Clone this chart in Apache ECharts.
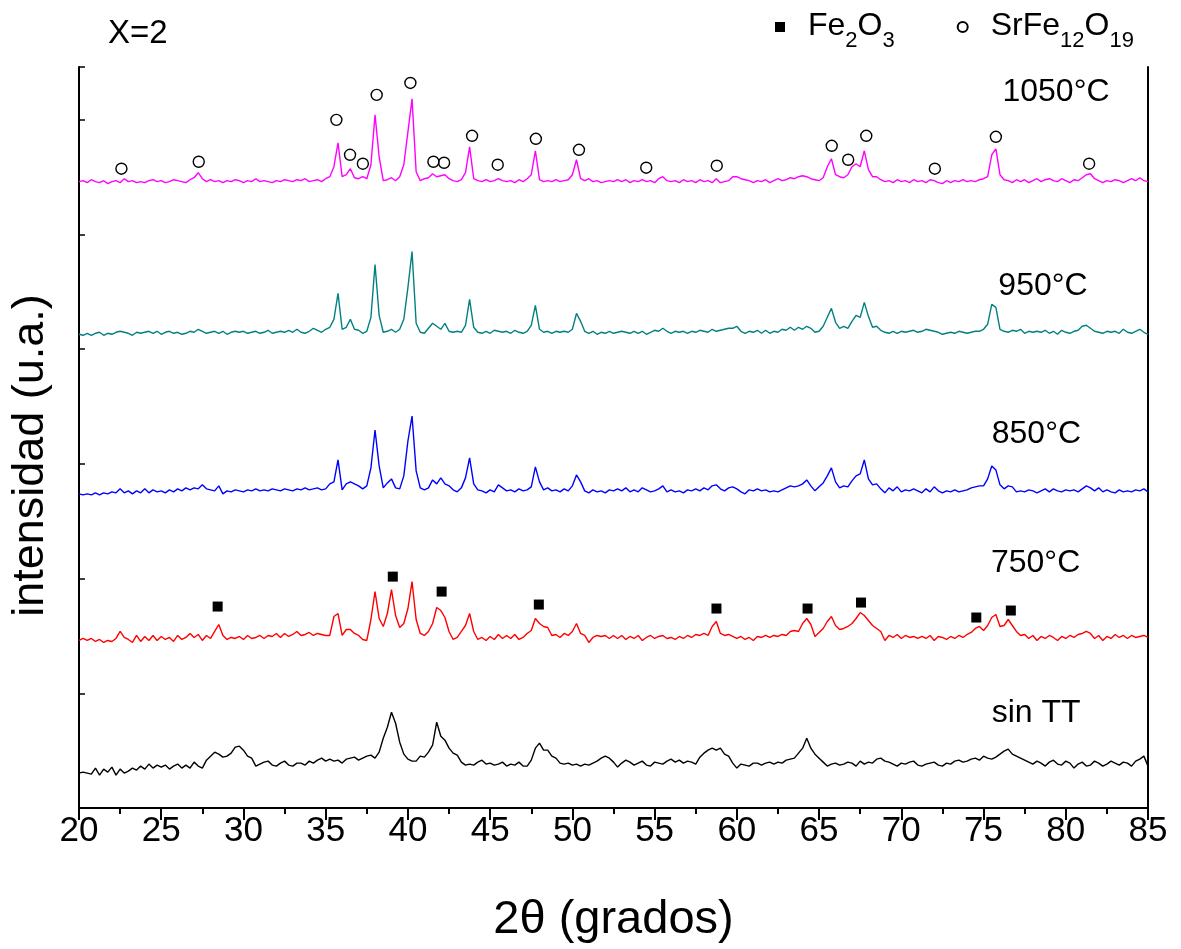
<!DOCTYPE html>
<html>
<head>
<meta charset="utf-8">
<script src="https://cdn.jsdelivr.net/npm/echarts@6/dist/echarts.min.js"></script>
<style>
html,body{margin:0;padding:0;background:#fff;}
#chart{width:1181px;height:949px;}
</style>
</head>
<body>
<div id="chart"></div>
<script>
// 2θ sampling grid (degrees), step 0.25 from 20 to 85
const twoTheta = Array.from({length: 261}, (_, i) => 20 + i * 0.25);

const seriesNames = ['sin TT', '750°C', '850°C', '950°C', '1050°C'];
const seriesColors = ['#000000', '#FF0000', '#0000FF', '#008080', '#FF00FF'];
// vertical shift of each pattern (a.u.)
const stackOffsets = [30, 165, 313, 472, 623];

const intSinTT = [
  5,6,5,4,10,3,9,6,11,3,9,5,7,10,8,12,9,14,10,13,
  11,13,9,12,14,10,13,10,16,12,10,18,22,26,24,21,22,25,31,32,
  28,22,20,12,14,16,17,13,12,15,17,13,12,15,15,13,17,15,18,20,
  17,19,17,18,15,19,20,21,18,20,22,23,20,26,40,51,66,55,36,24,
  19,17,17,22,21,26,33,56,42,38,30,25,23,16,13,14,13,16,18,14,
  15,13,14,16,12,14,13,16,12,12,18,30,35,28,28,22,20,15,14,15,
  13,14,12,14,13,15,17,20,22,20,16,11,15,18,16,13,15,17,13,12,
  16,15,14,17,19,16,18,15,17,16,14,21,25,28,30,28,30,24,22,15,
  10,14,13,12,15,15,13,15,16,14,16,15,18,19,20,25,30,40,30,24,
  20,16,12,14,15,13,14,16,15,12,17,14,16,15,19,20,17,16,14,12,
  15,14,16,17,13,12,14,15,16,13,12,15,14,17,18,16,17,19,20,18,
  22,20,19,21,24,27,29,24,22,20,18,16,14,17,15,12,16,18,14,13,
  17,15,10,14,16,12,13,17,15,12,14,17,15,13,16,15,12,17,19,22,
  12
];
const int750 = [
  3,5,3,5,2,4,1,3,2,5,12,6,4,1,8,2,7,3,8,3,
  7,4,6,2,8,4,6,10,6,9,3,8,5,12,19,8,4,6,5,7,
  4,8,5,6,8,5,8,7,10,6,10,7,9,12,8,9,11,8,10,9,
  8,8,27,30,8,14,14,10,8,4,3,24,52,25,17,30,54,28,16,20,
  35,62,24,10,8,12,20,36,33,26,12,4,6,12,18,30,12,4,6,3,
  7,4,9,5,8,5,9,4,6,10,13,25,20,17,16,8,9,6,10,8,
  12,20,10,8,1,6,8,7,8,5,8,5,8,4,7,5,8,3,6,8,
  5,7,8,5,6,4,7,5,8,6,9,8,10,8,17,22,10,8,9,7,
  5,7,4,6,3,7,6,8,6,8,7,9,8,12,13,12,20,25,19,7,
  11,15,22,27,18,14,15,17,20,25,31,28,23,18,15,12,3,8,6,9,
  5,8,6,7,5,7,5,8,3,7,6,4,7,5,8,6,9,11,15,17,
  13,18,26,29,17,18,24,18,12,8,9,5,8,3,7,5,8,6,3,7,
  5,8,6,9,10,12,10,5,8,3,7,5,9,6,8,5,8,6,7,8,
  6
];
const int850 = [
  2,1,2,1,3,1,3,2,4,3,7,3,5,2,5,3,7,3,6,4,
  5,3,6,4,7,5,8,6,8,7,11,7,6,5,10,2,5,4,6,5,
  4,6,5,7,5,6,5,7,6,5,7,6,5,7,6,8,6,7,8,6,
  7,12,14,36,6,12,14,12,10,7,10,28,66,30,8,13,17,8,7,20,
  55,80,25,8,6,8,16,12,18,12,10,6,4,8,18,38,12,6,5,3,
  6,4,11,8,5,6,4,7,5,6,9,29,14,6,8,5,6,4,7,5,
  10,21,14,5,3,6,4,5,3,6,5,7,5,8,4,6,4,8,6,4,
  5,7,10,4,6,4,5,3,6,5,7,5,8,6,10,11,7,5,8,9,
  7,4,2,6,5,7,5,6,4,5,4,6,8,10,9,10,12,16,10,5,
  9,13,20,28,14,8,10,9,15,20,22,36,17,11,12,7,3,8,5,9,
  4,6,5,7,5,3,7,4,9,5,3,5,4,6,4,5,6,8,9,10,
  10,17,30,26,11,7,10,9,4,5,4,6,5,3,5,7,4,7,5,4,
  6,5,6,4,7,10,8,5,8,4,6,4,3,6,4,5,4,6,5,7,
  4
];
const int950 = [
  3,2,4,2,4,5,2,4,3,5,6,5,4,2,5,4,5,6,4,6,
  3,5,6,4,5,3,4,6,5,8,6,4,5,6,4,6,3,5,6,5,
  6,4,5,6,4,5,7,4,5,6,5,7,5,8,5,4,6,9,7,5,
  8,10,18,44,8,10,18,8,7,4,6,20,73,22,5,6,8,5,8,18,
  50,86,14,5,4,9,14,11,8,14,6,5,6,5,12,38,10,5,4,6,
  4,7,6,5,6,4,7,5,4,6,12,32,8,5,6,4,6,5,6,5,
  8,24,16,6,4,6,3,5,4,6,4,5,6,5,4,6,4,6,3,5,
  7,6,9,6,4,6,5,6,4,6,5,7,6,5,8,6,7,8,9,9,
  11,6,4,6,5,7,4,7,4,6,5,8,7,10,7,10,8,11,9,5,
  6,11,20,29,15,9,11,9,16,22,20,35,21,10,11,7,5,4,6,4,
  6,5,6,7,5,6,8,7,6,5,3,4,5,4,6,5,4,5,6,6,
  8,13,33,30,8,6,5,7,6,8,4,6,5,6,5,7,4,6,3,7,
  5,4,6,7,11,12,9,6,5,4,6,5,6,4,8,5,4,6,8,5,
  3
];
const int1050 = [
  5,6,4,7,5,4,6,3,5,6,4,8,5,6,4,5,4,6,7,5,
  6,4,5,7,6,5,4,7,9,14,8,5,7,5,6,4,6,5,7,6,
  4,6,5,8,5,6,5,4,6,5,7,6,5,7,6,8,5,6,7,5,
  8,10,20,44,10,12,18,9,8,10,8,22,72,30,6,7,9,6,10,22,
  55,88,15,6,8,9,13,10,11,12,8,6,5,7,14,40,8,6,5,7,
  5,6,8,6,5,6,4,7,5,8,12,36,7,5,6,5,7,5,6,7,
  12,27,8,6,8,5,6,4,5,6,5,7,5,7,4,6,5,7,5,6,
  4,8,10,6,5,6,4,7,5,6,4,7,5,6,4,8,4,5,6,10,
  10,8,7,6,4,6,5,7,4,6,8,6,7,9,8,10,11,10,8,7,
  6,9,20,28,12,10,9,12,20,23,20,36,17,10,10,7,5,6,4,7,
  5,6,4,7,5,6,4,7,6,4,3,6,4,6,5,7,5,6,5,7,
  8,10,32,38,12,7,6,4,7,5,7,4,6,8,5,7,8,6,5,8,
  6,4,7,6,9,12,13,8,6,4,6,5,7,6,4,6,8,6,9,6,
  5
];
const intensities = [intSinTT, int750, int850, int950, int1050];

// Phase markers: SrFe12O19 (open circles, on 1050°C pattern), Fe2O3 (filled squares, on 750°C pattern)
const srFeAngles  = [22.58, 27.28, 35.65, 36.48, 37.26, 38.1, 40.15, 41.55, 42.2, 43.9, 45.46, 47.78, 50.4, 54.49, 58.78, 65.77, 66.77, 67.87, 72.04, 75.75, 81.42];
const srFeHeights = [18, 25, 67, 32, 23, 92, 104, 25, 24, 51, 22, 48, 37, 19, 21, 41, 27, 51, 18, 50, 23];
const fe2o3Angles  = [28.43, 39.08, 42.05, 47.96, 58.76, 64.3, 67.55, 74.56, 76.66];
const fe2o3Heights = [37, 67, 52, 39, 35, 35, 41, 26, 33];

const xTicks = [20, 25, 30, 35, 40, 45, 50, 55, 60, 65, 70, 75, 80, 85];

const FONT = '"Liberation Sans", Arial, sans-serif';

const lineSeries = seriesNames.map((name, k) => ({
  name: name,
  type: 'line',
  data: twoTheta.map((t, i) => [t, stackOffsets[k] + intensities[k][i]]),
  showSymbol: false,
  symbol: 'none',
  lineStyle: {color: seriesColors[k], width: 1.4},
  itemStyle: {color: seriesColors[k]},
  z: 2
}));

// label anchors for the pattern names (left edge angle, height above offset)
const labelAnchors = [[75.5, 65], [75.45, 80], [75.5, 62], [75.9, 51], [76.15, 95]];

const option = {
  animation: false,
  backgroundColor: '#ffffff',
  title: {
    text: 'X=2', left: 103, top: 12,
    textStyle: {fontFamily: FONT, fontSize: 33, fontWeight: 'normal', color: '#000'}
  },
  legend: {
    data: ['Fe2O3', 'SrFe12O19'],
    left: 770, top: 5,
    itemWidth: 10, itemHeight: 10, itemGap: 62,
    formatter: function (n) {
      return n === 'Fe2O3' ? '{g|}{m|Fe}{s|2}{m|O}{s|3}' : '{g|}{m|SrFe}{s|12}{m|O}{s|19}';
    },
    textStyle: {
      fontFamily: FONT, color: '#000',
      rich: {
        g: {width: 18},
        m: {fontFamily: FONT, fontSize: 32, lineHeight: 34, verticalAlign: 'top', color: '#000'},
        s: {fontFamily: FONT, fontSize: 22, lineHeight: 22, padding: [20, 0, 0, 0], verticalAlign: 'top', color: '#000'}
      }
    }
  },
  grid: {left: 78, right: 33, top: 67, bottom: 139, containLabel: false},
  xAxis: [{
    type: 'value', min: 20, max: 85, interval: 5, position: 'bottom',
    name: '2θ (grados)', nameLocation: 'middle', nameGap: 89,
    nameTextStyle: {fontFamily: FONT, fontSize: 47, color: '#000'},
    axisLine: {show: true, lineStyle: {color: '#000', width: 2}},
    axisTick: {show: true, inside: false, length: 12, lineStyle: {color: '#000', width: 2}},
    minorTick: {show: true, splitNumber: 2, length: 6, lineStyle: {color: '#000', width: 2}},
    axisLabel: {fontFamily: FONT, fontSize: 35, color: '#000', margin: 6,
      formatter: v => xTicks.includes(v) ? String(v) : ''},
    splitLine: {show: false}
  }, {
    type: 'value', min: 20, max: 85, interval: 5, position: 'top',
    axisLine: {show: true, lineStyle: {color: '#000', width: 2}},
    axisTick: {show: true, inside: true, length: 7, lineStyle: {color: '#000', width: 1.5}},
    axisLabel: {show: false},
    splitLine: {show: false}
  }],
  yAxis: [{
    type: 'value', min: 0, max: 743, interval: 115, position: 'left',
    name: 'intensidad (u.a.)', nameLocation: 'middle', nameGap: 26, nameRotate: 90,
    nameTextStyle: {fontFamily: FONT, fontSize: 45, color: '#000', padding: [0, 36, 0, 0]},
    axisLine: {show: true, lineStyle: {color: '#000', width: 2}},
    axisTick: {show: true, inside: true, length: 6, lineStyle: {color: '#000', width: 1.5}},
    axisLabel: {show: false}, splitLine: {show: false}
  }, {
    type: 'value', min: 0, max: 743, position: 'right',
    axisLine: {show: true, lineStyle: {color: '#000', width: 2}},
    axisTick: {show: false}, axisLabel: {show: false}, splitLine: {show: false}
  }],
  series: lineSeries.concat([
    {
      name: 'Fe2O3', type: 'scatter', symbol: 'rect', symbolSize: 10,
      itemStyle: {color: '#000', opacity: 1},
      data: fe2o3Angles.map((a, i) => [a, stackOffsets[1] + fe2o3Heights[i]]),
      z: 5
    },
    {
      name: 'SrFe12O19', type: 'scatter', symbol: 'circle', symbolSize: 11,
      itemStyle: {color: 'rgba(255,255,255,0)', borderColor: '#000', borderWidth: 1.4, opacity: 1},
      data: srFeAngles.map((a, i) => [a, stackOffsets[4] + srFeHeights[i]]),
      z: 5
    },
    {
      name: 'labels', type: 'scatter', symbolSize: 0, silent: true,
      itemStyle: {opacity: 1},
      data: seriesNames.map((n, k) => ({value: [labelAnchors[k][0], stackOffsets[k] + labelAnchors[k][1]], name: n})),
      label: {show: true, position: 'right', distance: 0, formatter: p => p.name,
        fontFamily: FONT, fontSize: 32, color: '#000', opacity: 1},
      z: 6
    }
  ])
};

const chart = echarts.init(document.getElementById('chart'), null, {renderer: 'canvas'});
chart.setOption(option);
</script>
</body>
</html>
